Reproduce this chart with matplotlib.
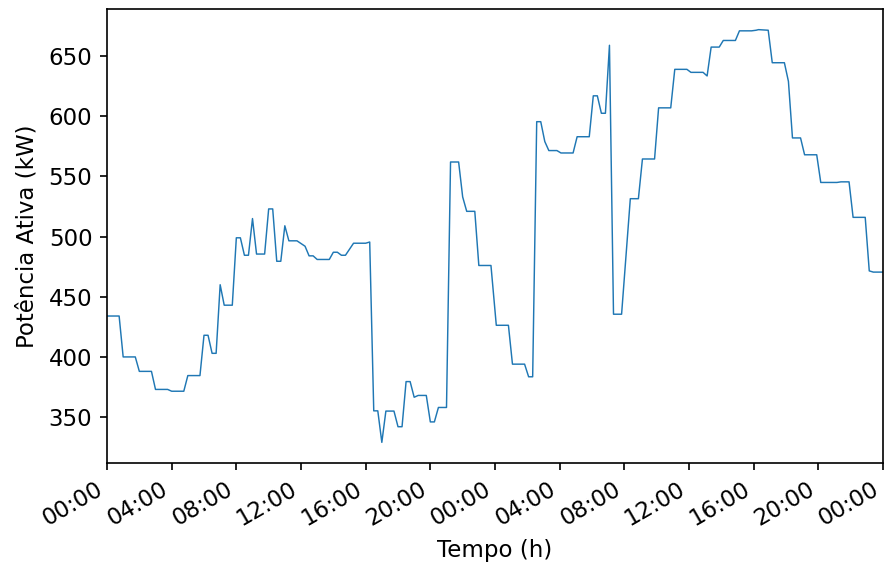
import matplotlib
matplotlib.use("Agg")
import matplotlib.pyplot as plt
from matplotlib.ticker import FixedLocator, FuncFormatter

# Time (hours since start) and active power (kW)
hours = [0, 0.75, 1.0, 1.75, 2.0, 2.75, 3.0, 3.75, 4.0, 4.75, 5.0, 5.75, 6.0, 6.25,
         6.5, 6.75, 7.0, 7.25, 7.75, 8.0, 8.25, 8.5, 8.75, 9.0, 9.25, 9.75, 10.0,
         10.25, 10.5, 10.75, 11.0, 11.25, 11.75, 12.25, 12.5, 12.75, 13.0, 13.75,
         14.0, 14.25, 14.5, 14.75, 15.25, 16.0, 16.25, 16.5, 16.75, 17.0, 17.25,
         17.75, 18.0, 18.25, 18.5, 18.75, 19.0, 19.25, 19.75, 20.0, 20.25, 20.5,
         21.0, 21.25, 21.75, 22.0, 22.25, 22.75, 23.0, 23.75, 24.08, 24.83, 25.08,
         25.83, 26.08, 26.33, 26.58, 26.83, 27.08, 27.33, 27.83, 28.08, 28.83, 29.08,
         29.83, 30.08, 30.33, 30.58, 30.83, 31.08, 31.33, 31.83, 32.37, 32.87, 33.12,
         33.87, 34.12, 34.87, 35.12, 35.87, 36.12, 36.87, 37.12, 37.37, 37.87, 38.12,
         38.87, 39.12, 39.87, 40.15, 40.3, 40.9, 41.15, 41.9, 42.15, 42.4, 42.9,
         43.15, 43.9, 44.15, 45.15, 45.4, 45.9, 46.15, 46.9, 47.15, 47.4, 48.0]
power = [434, 434, 400, 400, 388, 388, 373, 373, 371.5, 371.5, 384.5, 384.5, 418, 418,
         403, 403, 460, 443, 443, 499, 499, 484.5, 484.5, 515, 485.5, 485.5, 523,
         523, 479.5, 479.5, 509, 496.5, 496.5, 492, 484, 484, 481, 481,
         487, 487, 484.5, 484.5, 494.5, 494.5, 495.5, 355.2, 355.2, 329, 355,
         355, 342, 342, 379.5, 379.5, 366.5, 368, 368, 346, 346, 358,
         358, 562, 562, 533, 521, 521, 476, 476, 426.3, 426.3, 394,
         394, 383.5, 383.5, 595.5, 595.5, 579, 571.5, 571.5, 569.5, 569.5, 583,
         583, 617, 617, 602.5, 602.5, 659, 435.5, 435.5, 531.5, 531.5, 564.5,
         564.5, 607, 607, 639, 639, 636.5, 636.5, 633.5, 657.5, 657.5, 663,
         663, 671, 671, 671.5, 672, 671.5, 644.5, 644.5, 629, 582, 582,
         568, 568, 545, 545, 545.5, 545.5, 516, 516, 471.5, 470.5, 470.5]

tick_hours = [0, 4, 8, 12, 16, 20, 24, 28, 32, 36, 40, 44, 48]

fig = plt.figure(figsize=(884 / 150, 570 / 150), dpi=150)
ax = fig.add_axes([107 / 884, 1 - 463 / 570, (883 - 107) / 884, (463 - 9) / 570])
ax.plot(hours, power, color="#1f77b4", linewidth=0.7)
ax.set_xlim(0, 48)
ax.xaxis.set_major_locator(FixedLocator(tick_hours))
ax.xaxis.set_major_formatter(FuncFormatter(lambda h, pos: f"{int(round(h)) % 24:02d}:00"))
for lab in ax.get_xticklabels():
    lab.set_rotation(30)
    lab.set_ha("right")
ax.tick_params(labelsize=11)
ax.set_xlabel("Tempo (h)", fontsize=11)
ax.set_ylabel("Potência Ativa (kW)", fontsize=11, labelpad=5)
fig.savefig("out.png", dpi=150)
